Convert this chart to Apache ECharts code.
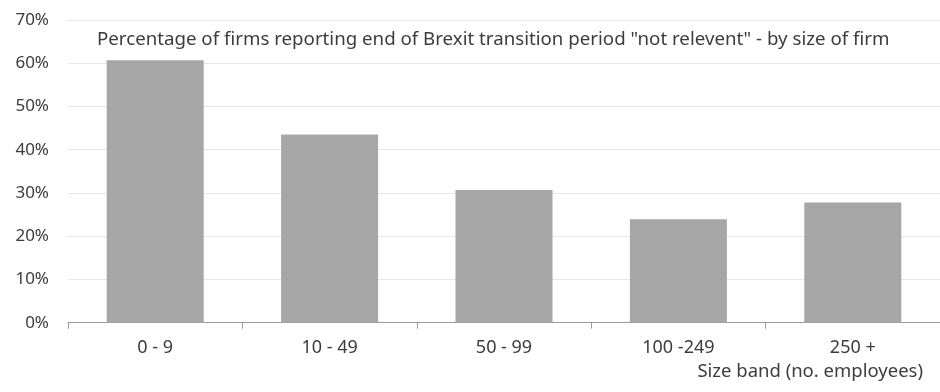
<!DOCTYPE html>
<html>
<head>
<meta charset="utf-8">
<script src="https://cdn.jsdelivr.net/npm/echarts@6/dist/echarts.min.js"></script>
<style>html,body{margin:0;padding:0;background:#fff}#c{width:940px;height:392px}</style>
</head>
<body>
<div id="c"></div>
<script>
var categories = ['0 - 9', '10 - 49', '50 - 99', '100 -249', '250 +'];
var values = [60.7, 43.5, 30.7, 23.9, 27.8];
var titleText = 'Percentage of firms reporting end of Brexit transition period "not relevent" - by size of firm';
var axisTitle = 'Size band (no. employees)';

var font = '"Noto Sans", sans-serif';
var txt = '#3c3c3c';
var chart = echarts.init(document.getElementById('c'), null, {renderer: 'canvas'});
chart.setOption({
  animation: false,
  title: [
    {text: titleText, left: 97, top: 29, padding: 0, textStyle: {fontFamily: font, fontSize: 18.7, fontWeight: 'normal', color: txt, lineHeight: 22}},
    {text: axisTitle, right: 17, top: 361, padding: 0, textStyle: {fontFamily: font, fontSize: 18.5, fontWeight: 'normal', color: txt, lineHeight: 22}}
  ],
  grid: {left: 68, top: 20, width: 878, height: 302.7, containLabel: false},
  xAxis: {
    type: 'category',
    data: categories,
    axisLine: {lineStyle: {color: '#999', width: 1}},
    axisTick: {show: true, length: 6, lineStyle: {color: '#999'}},
    axisLabel: {fontFamily: font, fontSize: 18, color: txt, margin: 16}
  },
  yAxis: {
    type: 'value', min: 0, max: 70, interval: 10,
    axisLine: {show: false}, axisTick: {show: false},
    splitLine: {lineStyle: {color: '#e6e6e6', width: 1}},
    axisLabel: {fontFamily: font, fontSize: 17, color: txt, margin: 19, formatter: '{value}%'}
  },
  series: [{
    type: 'bar', data: values, barWidth: 97,
    itemStyle: {color: '#a6a6a6'}
  }]
});
</script>
</body>
</html>
